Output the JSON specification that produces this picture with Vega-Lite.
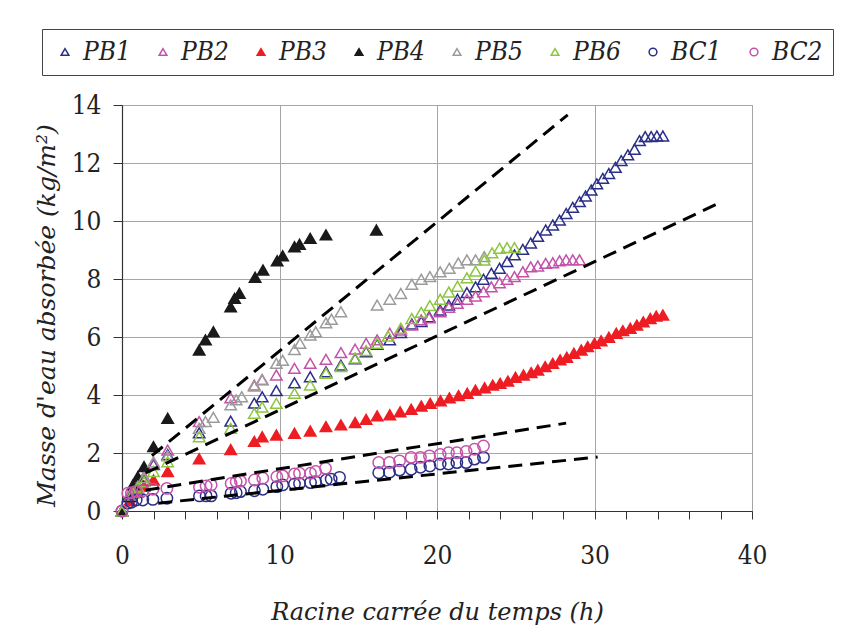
{
  "$schema": "https://vega.github.io/schema/vega-lite/v6.json",
  "width": 630,
  "height": 406,
  "autosize": {"type": "none"},
  "padding": {"left": 122, "top": 105, "right": 109, "bottom": 131},
  "background": "white",
  "config": {
    "view": {"stroke": "#a6a6a6", "strokeWidth": 1},
    "font": "DejaVu Serif",
    "axis": {
      "labelFont": "DejaVu Serif Condensed",
      "labelFontSize": 26,
      "labelColor": "#222",
      "titleFont": "DejaVu Serif",
      "titleFontStyle": "italic",
      "titleFontWeight": "normal",
      "titleFontSize": 25,
      "titleColor": "#222",
      "domainColor": "#333",
      "domainWidth": 1.2,
      "tickColor": "#333",
      "gridColor": "#a6a6a6",
      "gridWidth": 1
    },
    "legend": {
      "orient": "none",
      "legendX": -80,
      "legendY": -76,
      "direction": "horizontal",
      "columns": 8,
      "strokeColor": "#444",
      "padding": 10,
      "symbolSize": 60,
      "symbolStrokeWidth": 1.5,
      "labelFont": "DejaVu Serif Condensed",
      "labelFontStyle": "italic",
      "labelFontSize": 26,
      "labelColor": "#222",
      "labelOffset": 5,
      "columnPadding": 19
    }
  },
  "datasets": {
    "pts": [
      {"s":"PB1","x":0,"y":0},{"s":"PB1","x":0.5,"y":0.5},{"s":"PB1","x":1.0,"y":0.8},{"s":"PB1","x":1.4,"y":1.05},{"s":"PB1","x":2.0,"y":1.6},{"s":"PB1","x":2.9,"y":1.95},{"s":"PB1","x":4.9,"y":2.7},{"s":"PB1","x":6.9,"y":3.1},{"s":"PB1","x":8.4,"y":3.72},{"s":"PB1","x":8.9,"y":3.94},{"s":"PB1","x":9.8,"y":4.15},{"s":"PB1","x":10.95,"y":4.42},{"s":"PB1","x":11.95,"y":4.63},{"s":"PB1","x":12.95,"y":4.8},{"s":"PB1","x":13.9,"y":5.03},{"s":"PB1","x":14.8,"y":5.25},{"s":"PB1","x":15.5,"y":5.49},{"s":"PB1","x":16.2,"y":5.75},{"s":"PB1","x":17.0,"y":5.9},{"s":"PB1","x":17.7,"y":6.15},{"s":"PB1","x":18.4,"y":6.45},{"s":"PB1","x":19.0,"y":6.53},{"s":"PB1","x":19.5,"y":6.7},{"s":"PB1","x":20.2,"y":6.93},{"s":"PB1","x":20.75,"y":7.1},{"s":"PB1","x":21.3,"y":7.3},{"s":"PB1","x":21.9,"y":7.53},{"s":"PB1","x":22.45,"y":7.73},{"s":"PB1","x":22.95,"y":7.99},{"s":"PB1","x":23.45,"y":8.2},{"s":"PB1","x":23.97,"y":8.37},{"s":"PB1","x":24.45,"y":8.6},{"s":"PB1","x":24.92,"y":8.83},{"s":"PB1","x":25.45,"y":9.02},{"s":"PB1","x":25.95,"y":9.24},{"s":"PB1","x":26.4,"y":9.47},{"s":"PB1","x":26.9,"y":9.69},{"s":"PB1","x":27.35,"y":9.86},{"s":"PB1","x":27.78,"y":10.03},{"s":"PB1","x":28.2,"y":10.26},{"s":"PB1","x":28.62,"y":10.47},{"s":"PB1","x":29.05,"y":10.67},{"s":"PB1","x":29.43,"y":10.86},{"s":"PB1","x":29.79,"y":11.07},{"s":"PB1","x":30.15,"y":11.28},{"s":"PB1","x":30.53,"y":11.47},{"s":"PB1","x":30.91,"y":11.64},{"s":"PB1","x":31.33,"y":11.85},{"s":"PB1","x":31.7,"y":12.08},{"s":"PB1","x":32.12,"y":12.28},{"s":"PB1","x":32.54,"y":12.47},{"s":"PB1","x":32.86,"y":12.77},{"s":"PB1","x":33.22,"y":12.91},{"s":"PB1","x":33.6,"y":12.91},{"s":"PB1","x":33.96,"y":12.93},{"s":"PB1","x":34.34,"y":12.93},
      {"s":"PB2","x":0,"y":0},{"s":"PB2","x":0.5,"y":0.6},{"s":"PB2","x":1.0,"y":0.9},{"s":"PB2","x":1.4,"y":1.2},{"s":"PB2","x":2.0,"y":1.64},{"s":"PB2","x":2.9,"y":2.1},{"s":"PB2","x":4.9,"y":3.08},{"s":"PB2","x":6.9,"y":3.9},{"s":"PB2","x":8.4,"y":4.34},{"s":"PB2","x":8.9,"y":4.52},{"s":"PB2","x":9.8,"y":4.69},{"s":"PB2","x":10.95,"y":4.92},{"s":"PB2","x":11.95,"y":5.09},{"s":"PB2","x":12.95,"y":5.23},{"s":"PB2","x":13.9,"y":5.46},{"s":"PB2","x":14.8,"y":5.58},{"s":"PB2","x":15.5,"y":5.78},{"s":"PB2","x":16.2,"y":5.9},{"s":"PB2","x":17.0,"y":6.13},{"s":"PB2","x":17.7,"y":6.24},{"s":"PB2","x":18.4,"y":6.41},{"s":"PB2","x":19.0,"y":6.59},{"s":"PB2","x":19.5,"y":6.66},{"s":"PB2","x":20.2,"y":6.87},{"s":"PB2","x":20.75,"y":7.02},{"s":"PB2","x":21.3,"y":7.16},{"s":"PB2","x":21.9,"y":7.3},{"s":"PB2","x":22.45,"y":7.41},{"s":"PB2","x":22.95,"y":7.56},{"s":"PB2","x":23.45,"y":7.73},{"s":"PB2","x":23.97,"y":7.87},{"s":"PB2","x":24.45,"y":7.99},{"s":"PB2","x":24.92,"y":8.08},{"s":"PB2","x":25.45,"y":8.25},{"s":"PB2","x":25.95,"y":8.42},{"s":"PB2","x":26.4,"y":8.45},{"s":"PB2","x":26.9,"y":8.54},{"s":"PB2","x":27.35,"y":8.56},{"s":"PB2","x":27.78,"y":8.63},{"s":"PB2","x":28.2,"y":8.66},{"s":"PB2","x":28.62,"y":8.66},{"s":"PB2","x":29.05,"y":8.66},
      {"s":"PB3","x":0,"y":0},{"s":"PB3","x":0.5,"y":0.35},{"s":"PB3","x":1.0,"y":0.65},{"s":"PB3","x":1.4,"y":0.85},{"s":"PB3","x":2.0,"y":1.07},{"s":"PB3","x":2.9,"y":1.36},{"s":"PB3","x":4.9,"y":1.8},{"s":"PB3","x":6.9,"y":2.12},{"s":"PB3","x":8.4,"y":2.4},{"s":"PB3","x":8.9,"y":2.56},{"s":"PB3","x":9.8,"y":2.62},{"s":"PB3","x":10.95,"y":2.68},{"s":"PB3","x":11.95,"y":2.76},{"s":"PB3","x":12.95,"y":2.91},{"s":"PB3","x":13.9,"y":2.97},{"s":"PB3","x":14.8,"y":3.05},{"s":"PB3","x":15.5,"y":3.16},{"s":"PB3","x":16.2,"y":3.28},{"s":"PB3","x":17.0,"y":3.32},{"s":"PB3","x":17.66,"y":3.42},{"s":"PB3","x":18.36,"y":3.51},{"s":"PB3","x":19.0,"y":3.62},{"s":"PB3","x":19.57,"y":3.71},{"s":"PB3","x":20.22,"y":3.8},{"s":"PB3","x":20.79,"y":3.9},{"s":"PB3","x":21.37,"y":3.98},{"s":"PB3","x":21.92,"y":4.06},{"s":"PB3","x":22.44,"y":4.17},{"s":"PB3","x":23.02,"y":4.25},{"s":"PB3","x":23.54,"y":4.34},{"s":"PB3","x":24.01,"y":4.4},{"s":"PB3","x":24.5,"y":4.48},{"s":"PB3","x":24.98,"y":4.61},{"s":"PB3","x":25.49,"y":4.69},{"s":"PB3","x":25.98,"y":4.77},{"s":"PB3","x":26.4,"y":4.86},{"s":"PB3","x":26.87,"y":4.98},{"s":"PB3","x":27.35,"y":5.09},{"s":"PB3","x":27.82,"y":5.21},{"s":"PB3","x":28.24,"y":5.3},{"s":"PB3","x":28.69,"y":5.44},{"s":"PB3","x":29.16,"y":5.55},{"s":"PB3","x":29.57,"y":5.67},{"s":"PB3","x":30.0,"y":5.78},{"s":"PB3","x":30.42,"y":5.87},{"s":"PB3","x":30.91,"y":5.99},{"s":"PB3","x":31.38,"y":6.13},{"s":"PB3","x":31.8,"y":6.22},{"s":"PB3","x":32.27,"y":6.3},{"s":"PB3","x":32.69,"y":6.41},{"s":"PB3","x":33.1,"y":6.52},{"s":"PB3","x":33.54,"y":6.64},{"s":"PB3","x":33.92,"y":6.72},{"s":"PB3","x":34.34,"y":6.76},
      {"s":"PB4","x":0,"y":0},{"s":"PB4","x":0.5,"y":0.5},{"s":"PB4","x":0.7,"y":0.9},{"s":"PB4","x":1.0,"y":1.18},{"s":"PB4","x":1.4,"y":1.53},{"s":"PB4","x":2.0,"y":2.22},{"s":"PB4","x":2.9,"y":3.2},{"s":"PB4","x":4.9,"y":5.55},{"s":"PB4","x":5.3,"y":5.9},{"s":"PB4","x":5.8,"y":6.18},{"s":"PB4","x":6.9,"y":7.04},{"s":"PB4","x":7.15,"y":7.33},{"s":"PB4","x":7.45,"y":7.51},{"s":"PB4","x":8.45,"y":8.06},{"s":"PB4","x":8.95,"y":8.31},{"s":"PB4","x":9.85,"y":8.63},{"s":"PB4","x":10.2,"y":8.8},{"s":"PB4","x":10.95,"y":9.11},{"s":"PB4","x":11.27,"y":9.2},{"s":"PB4","x":11.95,"y":9.4},{"s":"PB4","x":12.95,"y":9.52},{"s":"PB4","x":16.15,"y":9.69},
      {"s":"PB5","x":0,"y":0},{"s":"PB5","x":0.5,"y":0.55},{"s":"PB5","x":1.0,"y":0.85},{"s":"PB5","x":1.4,"y":1.15},{"s":"PB5","x":2.0,"y":1.7},{"s":"PB5","x":2.9,"y":1.9},{"s":"PB5","x":4.9,"y":2.85},{"s":"PB5","x":5.3,"y":3.08},{"s":"PB5","x":5.8,"y":3.23},{"s":"PB5","x":6.9,"y":3.66},{"s":"PB5","x":7.25,"y":3.83},{"s":"PB5","x":7.6,"y":3.94},{"s":"PB5","x":8.4,"y":4.31},{"s":"PB5","x":8.9,"y":4.54},{"s":"PB5","x":9.8,"y":5.09},{"s":"PB5","x":10.2,"y":5.2},{"s":"PB5","x":10.95,"y":5.57},{"s":"PB5","x":11.3,"y":5.78},{"s":"PB5","x":11.95,"y":6.07},{"s":"PB5","x":12.3,"y":6.18},{"s":"PB5","x":12.95,"y":6.49},{"s":"PB5","x":13.3,"y":6.61},{"s":"PB5","x":13.9,"y":6.87},{"s":"PB5","x":16.2,"y":7.1},{"s":"PB5","x":17.0,"y":7.3},{"s":"PB5","x":17.7,"y":7.5},{"s":"PB5","x":18.4,"y":7.82},{"s":"PB5","x":19.0,"y":7.99},{"s":"PB5","x":19.55,"y":8.08},{"s":"PB5","x":20.2,"y":8.25},{"s":"PB5","x":20.78,"y":8.37},{"s":"PB5","x":21.35,"y":8.55},{"s":"PB5","x":21.9,"y":8.66},{"s":"PB5","x":22.45,"y":8.66},{"s":"PB5","x":23.0,"y":8.77},
      {"s":"PB6","x":0,"y":0},{"s":"PB6","x":0.7,"y":0.62},{"s":"PB6","x":1.0,"y":0.8},{"s":"PB6","x":1.4,"y":1.01},{"s":"PB6","x":2.0,"y":1.36},{"s":"PB6","x":2.9,"y":1.7},{"s":"PB6","x":4.9,"y":2.56},{"s":"PB6","x":6.9,"y":2.85},{"s":"PB6","x":8.4,"y":3.37},{"s":"PB6","x":8.9,"y":3.58},{"s":"PB6","x":9.8,"y":3.71},{"s":"PB6","x":10.95,"y":4.06},{"s":"PB6","x":11.95,"y":4.34},{"s":"PB6","x":12.95,"y":4.75},{"s":"PB6","x":13.9,"y":4.98},{"s":"PB6","x":14.8,"y":5.27},{"s":"PB6","x":15.5,"y":5.53},{"s":"PB6","x":16.2,"y":5.78},{"s":"PB6","x":16.9,"y":6.03},{"s":"PB6","x":17.7,"y":6.3},{"s":"PB6","x":18.4,"y":6.64},{"s":"PB6","x":19.0,"y":6.85},{"s":"PB6","x":19.55,"y":7.08},{"s":"PB6","x":20.2,"y":7.3},{"s":"PB6","x":20.75,"y":7.55},{"s":"PB6","x":21.3,"y":7.75},{"s":"PB6","x":21.9,"y":8.04},{"s":"PB6","x":22.45,"y":8.27},{"s":"PB6","x":23.0,"y":8.65},{"s":"PB6","x":23.5,"y":8.9},{"s":"PB6","x":23.97,"y":9.06},{"s":"PB6","x":24.45,"y":9.08},{"s":"PB6","x":24.92,"y":9.08},
      {"s":"BC1","x":0,"y":0},{"s":"BC1","x":0.37,"y":0.27},{"s":"BC1","x":0.6,"y":0.3},{"s":"BC1","x":0.9,"y":0.38},{"s":"BC1","x":1.32,"y":0.38},{"s":"BC1","x":1.96,"y":0.4},{"s":"BC1","x":2.85,"y":0.44},{"s":"BC1","x":4.92,"y":0.52},{"s":"BC1","x":5.34,"y":0.52},{"s":"BC1","x":5.66,"y":0.52},{"s":"BC1","x":6.93,"y":0.61},{"s":"BC1","x":7.25,"y":0.63},{"s":"BC1","x":7.52,"y":0.67},{"s":"BC1","x":8.41,"y":0.7},{"s":"BC1","x":8.94,"y":0.75},{"s":"BC1","x":9.83,"y":0.84},{"s":"BC1","x":10.2,"y":0.9},{"s":"BC1","x":10.95,"y":0.93},{"s":"BC1","x":11.27,"y":0.95},{"s":"BC1","x":11.97,"y":0.98},{"s":"BC1","x":12.29,"y":1.01},{"s":"BC1","x":12.96,"y":1.07},{"s":"BC1","x":13.28,"y":1.1},{"s":"BC1","x":13.81,"y":1.16},{"s":"BC1","x":16.3,"y":1.32},{"s":"BC1","x":16.98,"y":1.34},{"s":"BC1","x":17.62,"y":1.41},{"s":"BC1","x":18.36,"y":1.44},{"s":"BC1","x":18.95,"y":1.51},{"s":"BC1","x":19.55,"y":1.55},{"s":"BC1","x":20.2,"y":1.62},{"s":"BC1","x":20.73,"y":1.62},{"s":"BC1","x":21.26,"y":1.67},{"s":"BC1","x":21.85,"y":1.67},{"s":"BC1","x":22.38,"y":1.79},{"s":"BC1","x":22.95,"y":1.85},
      {"s":"BC2","x":0,"y":0},{"s":"BC2","x":0.37,"y":0.61},{"s":"BC2","x":0.6,"y":0.63},{"s":"BC2","x":0.9,"y":0.67},{"s":"BC2","x":1.32,"y":0.7},{"s":"BC2","x":1.96,"y":0.75},{"s":"BC2","x":2.85,"y":0.78},{"s":"BC2","x":4.92,"y":0.82},{"s":"BC2","x":5.34,"y":0.86},{"s":"BC2","x":5.66,"y":0.9},{"s":"BC2","x":6.93,"y":0.95},{"s":"BC2","x":7.25,"y":1.01},{"s":"BC2","x":7.52,"y":1.03},{"s":"BC2","x":8.41,"y":1.07},{"s":"BC2","x":8.94,"y":1.13},{"s":"BC2","x":9.83,"y":1.18},{"s":"BC2","x":10.2,"y":1.21},{"s":"BC2","x":10.95,"y":1.28},{"s":"BC2","x":11.27,"y":1.3},{"s":"BC2","x":11.97,"y":1.3},{"s":"BC2","x":12.29,"y":1.36},{"s":"BC2","x":12.92,"y":1.47},{"s":"BC2","x":16.3,"y":1.67},{"s":"BC2","x":16.98,"y":1.67},{"s":"BC2","x":17.62,"y":1.73},{"s":"BC2","x":18.36,"y":1.85},{"s":"BC2","x":18.95,"y":1.85},{"s":"BC2","x":19.52,"y":1.9},{"s":"BC2","x":20.2,"y":1.95},{"s":"BC2","x":20.73,"y":2.01},{"s":"BC2","x":21.26,"y":2.01},{"s":"BC2","x":21.85,"y":2.05},{"s":"BC2","x":22.38,"y":2.13},{"s":"BC2","x":22.95,"y":2.24}
    ],
    "lines": [
      {"line":"A","x":1.9,"y":1.91},{"line":"A","x":28.3,"y":13.66},
      {"line":"B","x":1.5,"y":1.31},{"line":"B","x":37.8,"y":10.59},
      {"line":"C","x":1.5,"y":0.72},{"line":"C","x":28.2,"y":3.03},
      {"line":"D","x":2.3,"y":0.27},{"line":"D","x":30.2,"y":1.86}
    ]
  },
  "encoding": {
    "x": {
      "field": "x", "type": "quantitative",
      "scale": {"domain": [0, 40], "nice": false, "zero": true},
      "axis": {
        "title": "Racine carrée du temps (h)",
        "titleFontSize": 24,
        "values": [0,2,4,6,8,10,12,14,16,18,20,22,24,26,28,30,32,34,36,38,40],
        "labelExpr": "datum.value % 10 === 0 ? datum.label : ''",
        "grid": true,
        "gridOpacity": {"condition": {"test": "datum.value % 10 === 0", "value": 1}, "value": 0},
        "tickSize": 8,
        "labelPadding": 23,
        "titlePadding": 32,
        "labelFlush": false
      }
    },
    "y": {
      "field": "y", "type": "quantitative",
      "scale": {"domain": [0, 14], "nice": false},
      "axis": {
        "title": "Masse d'eau absorbée (kg/m²)",
        "titleY": 210,
        "values": [0,2,4,6,8,10,12,14],
        "grid": true,
        "tickSize": 9,
        "labelPadding": 12,
        "titlePadding": 12,
        "labelFlush": false
      }
    }
  },
  "layer": [
    {
      "data": {"name": "pts"},
      "mark": {"type": "point", "size": 130, "strokeWidth": 1.5, "opacity": 1},
      "encoding": {
        "shape": {"field": "s", "type": "nominal", "title": null,
          "scale": {"domain": ["PB1","PB2","PB3","PB4","PB5","PB6","BC1","BC2"],
                    "range": ["triangle-up","triangle-up","triangle-up","triangle-up","triangle-up","triangle-up","circle","circle"]}},
        "stroke": {"field": "s", "type": "nominal", "title": null,
          "scale": {"domain": ["PB1","PB2","PB3","PB4","PB5","PB6","BC1","BC2"],
                    "range": ["#2B2F87","#C452A9","#EE1D23","#1A1A1A","#9B9B9B","#8CC63E","#2B2F87","#C452A9"]}},
        "fill": {"field": "s", "type": "nominal", "title": null,
          "scale": {"domain": ["PB1","PB2","PB3","PB4","PB5","PB6","BC1","BC2"],
                    "range": ["transparent","transparent","#EE1D23","#1A1A1A","transparent","transparent","transparent","transparent"]}}
      }
    },
    {
      "data": {"name": "lines"},
      "mark": {"type": "line", "color": "black", "strokeWidth": 3, "strokeDash": [14, 8]},
      "encoding": {
        "detail": {"field": "line", "type": "nominal"}
      }
    }
  ]
}
